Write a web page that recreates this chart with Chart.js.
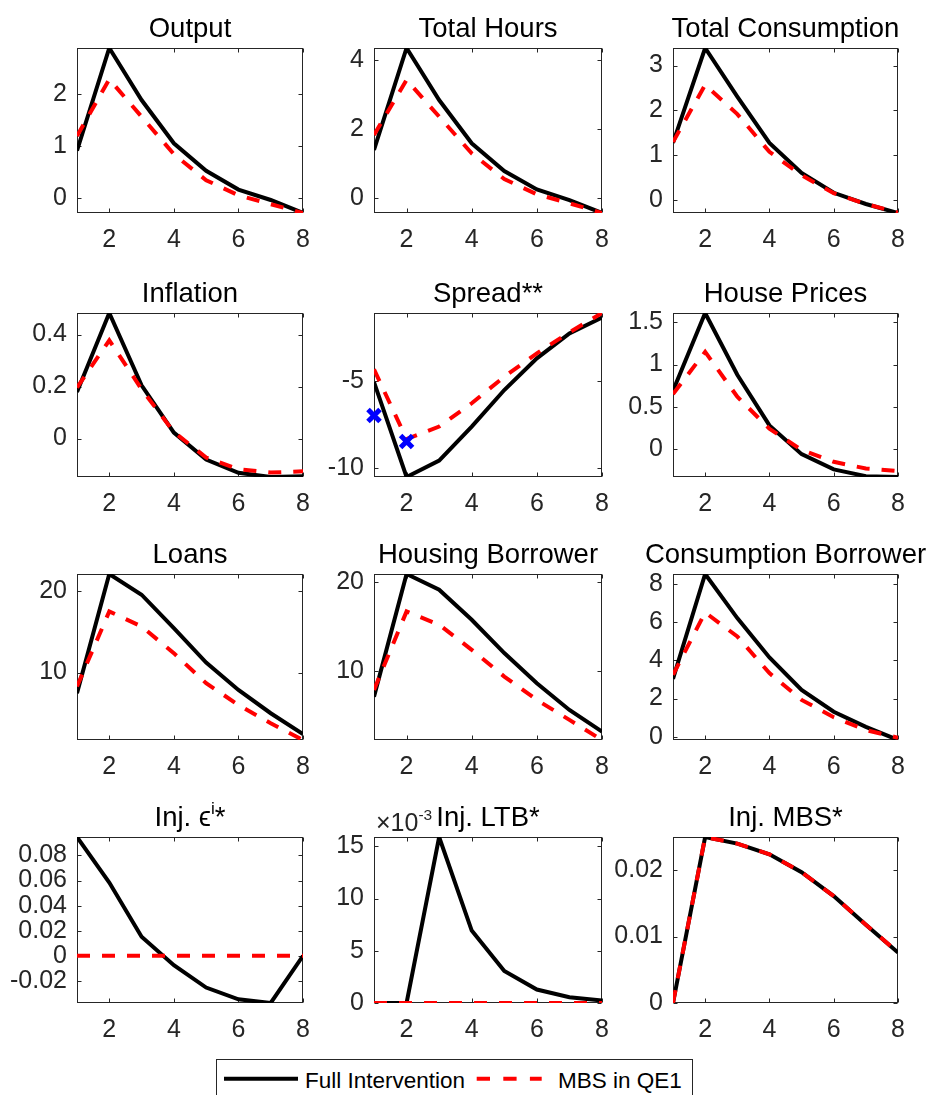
<!DOCTYPE html>
<html>
<head>
<meta charset="utf-8">
<script src="https://cdn.jsdelivr.net/npm/chart.js@4.4.1/dist/chart.umd.min.js"></script>
<style>
  html, body { margin: 0; padding: 0; background: #fff; }
  body { width: 928px; height: 1095px; overflow: hidden; position: relative; }
  canvas { position: absolute; left: 0; top: 0; }
  svg { position: absolute; left: 0; top: 1040px; }
</style>
</head>
<body>
<svg width="928" height="55" xmlns="http://www.w3.org/2000/svg" font-family="'Liberation Sans', Arial, Helvetica, sans-serif">
  <rect x="216.5" y="19.5" width="476" height="42" fill="#fff" stroke="#262626" stroke-width="1"/>
  <line x1="224" y1="38.7" x2="298" y2="38.7" stroke="#000" stroke-width="4"/>
  <text x="305" y="48" font-size="22.5" fill="#000">Full Intervention</text>
  <line x1="476.7" y1="38.7" x2="541.7" y2="38.7" stroke="#ff0000" stroke-width="4" stroke-dasharray="13.3 13.3"/>
  <text x="558" y="48" font-size="22.5" fill="#000">MBS in QE1</text>
</svg>
<script>
// ---------------- DATA ----------------
const periods = [1, 2, 3, 4, 5, 6, 7, 8];
const xTicks = [2, 4, 6, 8];
const xTickLabels = ['2', '4', '6', '8'];
const seriesNames = ['Full Intervention', 'MBS in QE1'];

const outputFull = [0.92, 2.89, 1.89, 1.06, 0.53, 0.17, -0.03, -0.28];
const outputMBS  = [1.20, 2.29, 1.57, 0.85, 0.35, 0.06, -0.11, -0.28];
const outputTicks = [0, 1, 2];
const outputTickLabels = ['0', '1', '2'];

const hoursFull = [1.40, 4.34, 2.84, 1.59, 0.79, 0.26, -0.05, -0.42];
const hoursMBS  = [1.83, 3.42, 2.36, 1.30, 0.56, 0.12, -0.14, -0.42];
const hoursTicks = [0, 2, 4];
const hoursTickLabels = ['0', '2', '4'];

const consFull = [1.28, 3.39, 2.31, 1.28, 0.61, 0.17, -0.08, -0.28];
const consMBS  = [1.30, 2.57, 1.92, 1.08, 0.56, 0.16, -0.08, -0.27];
const consTicks = [0, 1, 2, 3];
const consTickLabels = ['0', '1', '2', '3'];

const inflFull = [0.179, 0.483, 0.205, 0.023, -0.081, -0.132, -0.148, -0.145];
const inflMBS  = [0.196, 0.378, 0.190, 0.025, -0.073, -0.118, -0.131, -0.126];
const inflTicks = [0, 0.2, 0.4];
const inflTickLabels = ['0', '0.2', '0.4'];

const spreadFull = [-5.07, -10.52, -9.58, -7.62, -5.52, -3.70, -2.27, -1.35];
const spreadMBS  = [-4.33, -8.34, -7.62, -6.28, -4.75, -3.41, -2.20, -1.09];
const spreadMarkX = [1, 2];
const spreadMarkY = [-6.98, -8.48];
const spreadTicks = [-10, -5];
const spreadTickLabels = ['-10', '-5'];

const houseFull = [0.69, 1.61, 0.88, 0.28, -0.06, -0.24, -0.32, -0.33];
const houseMBS  = [0.65, 1.15, 0.62, 0.24, -0.01, -0.15, -0.23, -0.26];
const houseTicks = [0, 0.5, 1, 1.5];
const houseTickLabels = ['0', '0.5', '1', '1.5'];

const loansFull = [7.48, 22.04, 19.51, 15.43, 11.22, 7.88, 5.03, 2.49];
const loansMBS  = [8.29, 17.47, 15.63, 12.37, 8.70, 6.04, 3.80, 1.76];
const loansTicks = [10, 20];
const loansTickLabels = ['10', '20'];

const housingFull = [7.10, 20.90, 19.13, 15.75, 12.00, 8.61, 5.60, 3.16];
const housingMBS  = [7.86, 16.69, 15.19, 12.37, 9.36, 6.73, 4.48, 2.22];
const housingTicks = [10, 20];
const housingTickLabels = ['10', '20'];

const consBorFull = [3.03, 8.52, 6.21, 4.15, 2.45, 1.31, 0.52, -0.17];
const consBorMBS  = [3.24, 6.51, 5.25, 3.33, 1.93, 1.02, 0.35, -0.05];
const consBorTicks = [0, 2, 4, 6, 8];
const consBorTickLabels = ['0', '2', '4', '6', '8'];

const injEpsFull = [0.0947, 0.0584, 0.0152, -0.0075, -0.0253, -0.0347, -0.0376, 0];
const injEpsMBS  = [0, 0, 0, 0, 0, 0, 0, 0];
const injEpsTicks = [-0.02, 0, 0.02, 0.04, 0.06, 0.08];
const injEpsTickLabels = ['-0.02', '0', '0.02', '0.04', '0.06', '0.08'];

const injLtbFull = [0, 0, 0.0159, 0.00694, 0.00307, 0.00129, 0.00055, 0.00023];
const injLtbMBS  = [0, 0, 0, 0, 0, 0, 0, 0];
const injLtbTicks = [0, 0.005, 0.01, 0.015];
const injLtbTickLabels = ['0', '5', '10', '15'];
const injLtbExponent = '-3';

const injMbsFull = [0, 0.0250, 0.0240, 0.0224, 0.0197, 0.0161, 0.0118, 0.0076];
const injMbsMBS  = [0, 0.0250, 0.0240, 0.0224, 0.0197, 0.0161, 0.0118, 0.0076];
const injMbsTicks = [0, 0.01, 0.02];
const injMbsTickLabels = ['0', '0.01', '0.02'];

const titles = [
  [{t: 'Output'}],
  [{t: 'Total Hours'}],
  [{t: 'Total Consumption'}],
  [{t: 'Inflation'}],
  [{t: 'Spread**'}],
  [{t: 'House Prices'}],
  [{t: 'Loans'}],
  [{t: 'Housing Borrower'}],
  [{t: 'Consumption Borrower'}],
  [{t: 'Inj. '}, {t: '\u03F5'}, {t: 'i', sup: true}, {t: '*'}],
  [{t: 'Inj. LTB*'}],
  [{t: 'Inj. MBS*'}]
];

// ---------------- LAYOUT ----------------
const FONT = "'Liberation Sans', Arial, Helvetica, sans-serif";
const W = 928, H = 1095;
const colLeft = [77, 374, 673], colRight = [303, 602, 898];
const rowTop = [48, 313, 574, 837], rowBottom = [213, 477, 740, 1003];
const YW = 70, XH = 45;

const panels = [
  {full: outputFull, mbs: outputMBS, ticks: outputTicks, labels: outputTickLabels},
  {full: hoursFull, mbs: hoursMBS, ticks: hoursTicks, labels: hoursTickLabels},
  {full: consFull, mbs: consMBS, ticks: consTicks, labels: consTickLabels},
  {full: inflFull, mbs: inflMBS, ticks: inflTicks, labels: inflTickLabels},
  {full: spreadFull, mbs: spreadMBS, ticks: spreadTicks, labels: spreadTickLabels, marks: true},
  {full: houseFull, mbs: houseMBS, ticks: houseTicks, labels: houseTickLabels},
  {full: loansFull, mbs: loansMBS, ticks: loansTicks, labels: loansTickLabels},
  {full: housingFull, mbs: housingMBS, ticks: housingTicks, labels: housingTickLabels},
  {full: consBorFull, mbs: consBorMBS, ticks: consBorTicks, labels: consBorTickLabels},
  {full: injEpsFull, mbs: injEpsMBS, ticks: injEpsTicks, labels: injEpsTickLabels},
  {full: injLtbFull, mbs: injLtbMBS, ticks: injLtbTicks, labels: injLtbTickLabels, exponent: injLtbExponent},
  {full: injMbsFull, mbs: injMbsMBS, ticks: injMbsTicks, labels: injMbsTickLabels}
];

function drawSegments(ctx, segs, x, y, size, align) {
  const supSize = size * 0.62, raise = size * 0.45;
  let total = 0;
  segs.forEach(s => { ctx.font = (s.sup ? supSize : size) + 'px ' + FONT; total += ctx.measureText(s.t).width; });
  let cx = align === 'center' ? x - total / 2 : x;
  ctx.textAlign = 'left';
  ctx.textBaseline = 'alphabetic';
  segs.forEach(s => {
    ctx.font = (s.sup ? supSize : size) + 'px ' + FONT;
    ctx.fillText(s.t, cx, s.sup ? y - raise : y);
    cx += ctx.measureText(s.t).width;
  });
}

const matlabAxes = {
  id: 'matlabAxes',
  beforeDatasetsDraw(chart) {
    const {ctx, chartArea: a, scales: {x, y}} = chart;
    ctx.save();
    ctx.strokeStyle = '#262626';
    ctx.lineWidth = 1;
    const l = Math.round(a.left) + 0.5, r = Math.round(a.right) - 0.5;
    const t = Math.round(a.top) + 0.5, b = Math.round(a.bottom) - 0.5;
    ctx.strokeRect(l, t, r - l, b - t);
    const TL = 4;
    ctx.beginPath();
    x.ticks.forEach(tk => {
      const px = Math.round(x.getPixelForValue(tk.value)) + 0.5;
      ctx.moveTo(px, b); ctx.lineTo(px, b - TL);
      ctx.moveTo(px, t); ctx.lineTo(px, t + TL);
    });
    y.ticks.forEach(tk => {
      const py = Math.round(y.getPixelForValue(tk.value)) + 0.5;
      ctx.moveTo(l, py); ctx.lineTo(l + TL, py);
      ctx.moveTo(r, py); ctx.lineTo(r - TL, py);
    });
    ctx.stroke();
    ctx.restore();
  },
  afterDraw(chart, args, opts) {
    const {ctx, chartArea: a} = chart;
    ctx.save();
    if (opts.exponent) {
      ctx.fillStyle = '#262626';
      drawSegments(ctx, [{t: '\u00D710'}, {t: opts.exponent, sup: true}], a.left + 2, a.top - 6, 25, 'left');
    }
    ctx.fillStyle = '#000';
    drawSegments(ctx, opts.title, (a.left + a.right) / 2, a.top - 10.7, 27.5, 'center');
    ctx.restore();
  }
};

panels.forEach((p, idx) => {
  const col = idx % 3, row = Math.floor(idx / 3);
  const L = colLeft[col], R = colRight[col], T = rowTop[row], B = rowBottom[row];
  const canvas = document.createElement('canvas');
  canvas.width = W; canvas.height = H;
  document.body.insertBefore(canvas, document.body.firstChild);
  const vals = p.full.concat(p.mbs);
  const yMin = Math.min(...vals), yMax = Math.max(...vals);
  const datasets = [
    {label: seriesNames[1], data: periods.map((x, i) => ({x, y: p.mbs[i]})),
     borderColor: '#ff0000', borderWidth: 4, borderDash: [13, 12], borderCapStyle: 'butt',
     borderJoinStyle: 'miter', pointRadius: 0, order: 1, tension: 0},
    {label: seriesNames[0], data: periods.map((x, i) => ({x, y: p.full[i]})),
     borderColor: '#000000', borderWidth: 4, borderCapStyle: 'butt', borderJoinStyle: 'miter',
     pointRadius: 0, order: 2, tension: 0}
  ];
  if (p.marks) {
    datasets.push({label: 'marks', data: spreadMarkX.map((x, i) => ({x, y: spreadMarkY[i]})),
      showLine: false, pointStyle: 'crossRot', pointRadius: 8.5, pointBorderWidth: 5,
      pointBorderColor: '#0000ff', borderColor: '#0000ff', backgroundColor: '#0000ff', order: 0, clip: false});
  }
  new Chart(canvas, {
    type: 'line',
    data: {datasets},
    options: {
      responsive: false, animation: false, devicePixelRatio: 1,
      events: [],
      layout: {padding: {left: L - YW, right: W - R, top: T, bottom: H - B - XH}},
      plugins: {
        legend: {display: false}, tooltip: {enabled: false}, title: {display: false},
        matlabAxes: {title: titles[idx], exponent: p.exponent || null}
      },
      scales: {
        x: {
          type: 'linear', min: 1, max: 8,
          grid: {display: false, drawTicks: false}, border: {display: false},
          afterBuildTicks: s => { s.ticks = xTicks.map(v => ({value: v})); },
          afterFit: s => { s.height = XH; },
          ticks: {autoSkip: false, maxRotation: 0, minRotation: 0, padding: 12, color: '#262626',
                  font: {family: FONT, size: 25}, callback: (v, i) => xTickLabels[i]}
        },
        y: {
          type: 'linear', min: yMin, max: yMax,
          grid: {display: false, drawTicks: false}, border: {display: false},
          afterBuildTicks: s => { s.ticks = p.ticks.map(v => ({value: v})); },
          afterFit: s => { s.width = YW; },
          ticks: {autoSkip: false, padding: 10, color: '#262626',
                  font: {family: FONT, size: 25}, callback: (v, i) => p.labels[i]}
        }
      }
    },
    plugins: [matlabAxes]
  });
});
</script>
</body>
</html>
